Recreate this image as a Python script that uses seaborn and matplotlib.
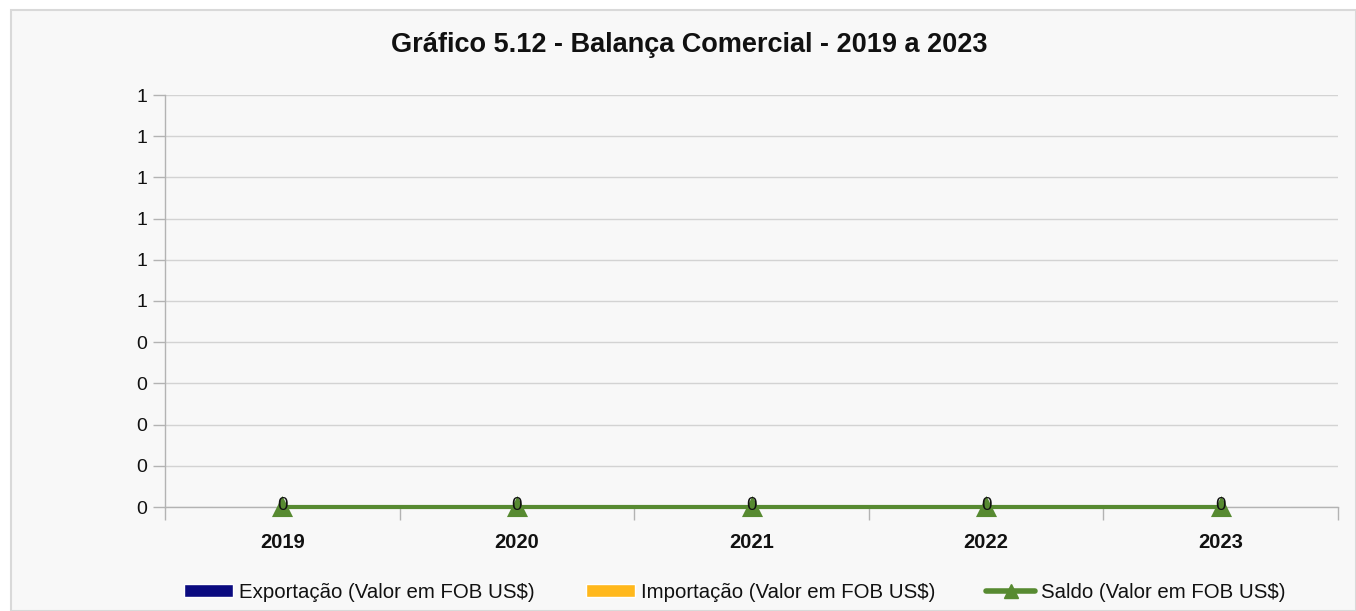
import numpy as np
import pandas as pd
import matplotlib.pyplot as plt
import matplotlib.ticker as mticker
from matplotlib.patches import Rectangle, Patch
from matplotlib.lines import Line2D
import seaborn as sns

# chart values
anos = ['2019', '2020', '2021', '2022', '2023']
exportacao = [0, 0, 0, 0, 0]
importacao = [0, 0, 0, 0, 0]
saldo = [0, 0, 0, 0, 0]

nomes = ['Exportação (Valor em FOB US$)', 'Importação (Valor em FOB US$)',
         'Saldo (Valor em FOB US$)']
cores = ['#0b0b80', '#ffb81c', '#578a31']

sns.set_style("white")
plt.rcParams['font.family'] = ['Liberation Sans', 'DejaVu Sans']
plt.rcParams['text.color'] = '#111111'
plt.rcParams['xtick.labelcolor'] = '#111111'
plt.rcParams['ytick.labelcolor'] = '#111111'

fig = plt.figure(figsize=(13.56, 6.11), dpi=100)
# light grey panel behind the chart
fig.patches.append(Rectangle((11 / 1356, 0), 1 - 11 / 1356, 1 - 10 / 611,
                             transform=fig.transFigure, facecolor='#f8f8f8',
                             edgecolor='#d9d9d9', linewidth=1.5, zorder=-10))
ax = fig.add_axes([165 / 1356, 104 / 611, (1338 - 165) / 1356, (507 - 95) / 611])
ax.set_facecolor('none')

df = pd.DataFrame({
    'ano': anos * 2,
    'valor': exportacao + importacao,
    'serie': [nomes[0]] * 5 + [nomes[1]] * 5,
})
sns.barplot(data=df, x='ano', y='valor', hue='serie', palette=cores[:2],
            ax=ax, legend=False, width=0.6)
sns.pointplot(x=anos, y=saldo, color=cores[2], markers='^', ax=ax,
              markersize=11, linewidth=3)
for ln in ax.lines:
    ln.set_clip_on(False)
    ln.set_zorder(5)

for i, v in enumerate(saldo):
    ax.annotate(f'{v:g}', (i, v), xytext=(0, 1), textcoords='offset points',
                ha='center', va='center', fontsize=13.5, color='#111111',
                zorder=10, annotation_clip=False)

ax.set_ylim(0, 1)
ax.set_xlim(-0.5, len(anos) - 0.5)
ax.yaxis.set_major_locator(mticker.MultipleLocator(0.1))
ax.yaxis.set_major_formatter(
    mticker.FuncFormatter(lambda v, p: f'{int(np.floor(v + 0.5 + 1e-9))}'))
ax.set_xticks(range(len(anos)))
ax.set_xticklabels(anos, fontweight='bold')
ax.set_xticks(np.arange(-0.5, len(anos)), minor=True)
ax.tick_params(axis='x', which='major', bottom=True, length=0, pad=19,
               labelsize=14.5)
ax.tick_params(axis='x', which='minor', bottom=True, length=9, width=1,
               color='#b3b3b3', direction='out')
ax.tick_params(axis='y', left=True, length=9, width=1, color='#b3b3b3', pad=4,
               labelsize=14)
ax.set_xlabel('')
ax.set_ylabel('')
ax.grid(axis='y', color='#d3d3d3', linewidth=1)
ax.set_axisbelow(True)
for s in ['top', 'right']:
    ax.spines[s].set_visible(False)
for s in ['left', 'bottom']:
    ax.spines[s].set_color('#b3b3b3')
    ax.spines[s].set_linewidth(1)
ax.spines['left'].set_bounds(0, 1)

fig.text(689 / 1356, 1 - 45 / 611, 'Gráfico 5.12 - Balança Comercial - 2019 a 2023',
         ha='center', va='center', fontsize=19.5, fontweight='bold')

handles = [Patch(facecolor=cores[0]), Patch(facecolor=cores[1]),
           Line2D([], [], color=cores[2], linewidth=4, marker='^',
                  markersize=10, markeredgecolor=cores[2])]
fig.legend(handles, nomes, loc='center', bbox_to_anchor=(0.542, 1 - 592 / 611),
           ncol=3, frameon=False, fontsize=14.7, handlelength=2.4,
           handleheight=0.6, handletextpad=0.3, columnspacing=2.5)

plt.savefig('out.png', dpi=100)
